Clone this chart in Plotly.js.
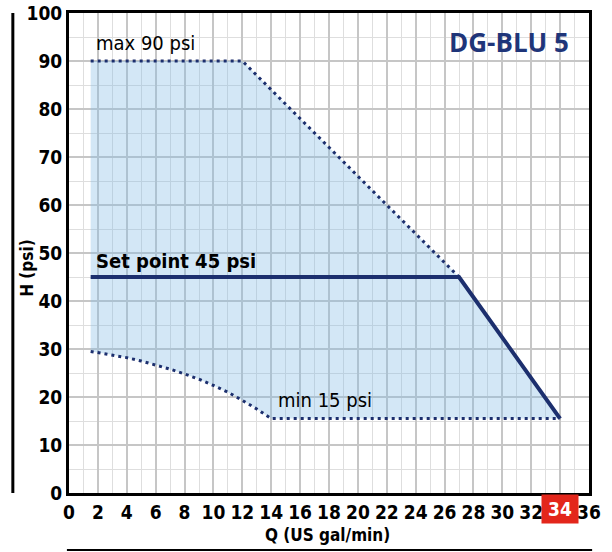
<!DOCTYPE html>
<html>
<head>
<meta charset="utf-8">
<script src="https://cdn.plot.ly/plotly-3.0.1.min.js"></script>
<style>html,body{margin:0;padding:0;background:#fff;}#chart{width:612px;height:552px;}</style>
</head>
<body>
<div id="chart"></div>
<script>
// Data
const maxQ = [1.5, 12, 27];
const maxH = [90, 90, 45];
const setQ = [1.5, 27, 34];
const setH = [45, 45, 15.5];
const minQ = [1.5, 3, 4, 5, 6, 7, 8, 9, 10, 11, 12, 13, 14, 34];
const minH = [29.5, 28.8, 28.2, 27.5, 26.7, 25.8, 24.8, 23.7, 22.4, 21.0, 19.3, 17.5, 15.5, 15.5];
const xTicks = [0, 2, 4, 6, 8, 10, 12, 14, 16, 18, 20, 22, 24, 26, 28, 30, 32, 34, 36];
const yTicks = [0, 10, 20, 30, 40, 50, 60, 70, 80, 90, 100];
const highlightQ = 34;

const NAVY = '#1c2f6e';
const COND = '"Liberation Sans Narrow", "DejaVu Sans Condensed", "Arial Narrow", sans-serif';

// Fill polygon: max curve -> set point descending line -> min curve reversed
const fillX = maxQ.concat([setQ[setQ.length - 1]]).concat(minQ.slice().reverse());
const fillY = maxH.concat([setH[setH.length - 1]]).concat(minH.slice().reverse());

const traces = [
  {x: fillX, y: fillY, mode: 'lines', fill: 'toself', fillcolor: 'rgba(130,185,230,0.35)',
   line: {width: 0}, hoverinfo: 'skip', showlegend: false},
  {x: maxQ, y: maxH, mode: 'lines', line: {color: NAVY, width: 3, dash: '3px,4px'}, showlegend: false},
  {x: minQ, y: minH, mode: 'lines', line: {color: NAVY, width: 3, dash: '3px,4px'}, showlegend: false},
  {x: setQ, y: setH, mode: 'lines', line: {color: NAVY, width: 4}, showlegend: false}
];

const xTickText = xTicks.map(v => v === highlightQ ? '' : String(v));

const layout = {
  width: 612, height: 552,
  margin: {l: 69, r: 23, t: 13, b: 59},
  paper_bgcolor: '#ffffff', plot_bgcolor: '#ffffff',
  showlegend: false,
  xaxis: {
    range: [0, 36], tickvals: xTicks, ticktext: xTickText,
    tickfont: {family: COND, size: 19, color: '#000', weight: 'bold'},
    showgrid: true, gridcolor: '#c6c6c6', gridwidth: 2,
    minor: {dtick: 1, showgrid: true, gridcolor: '#dedede', gridwidth: 1, tick0: 0},
    showline: true, linecolor: '#000', linewidth: 3, mirror: true,
    ticks: '', zeroline: false, fixedrange: true
  },
  yaxis: {
    range: [0, 100], tickvals: yTicks,
    tickfont: {family: COND, size: 19, color: '#000', weight: 'bold'},
    showgrid: true, gridcolor: '#c6c6c6', gridwidth: 2,
    minor: {dtick: 5, showgrid: true, gridcolor: '#dedede', gridwidth: 1, tick0: 0},
    showline: true, linecolor: '#000', linewidth: 3, mirror: true,
    ticks: '', zeroline: false, fixedrange: true
  },
  shapes: [
    {type: 'line', xref: 'paper', yref: 'paper', x0: -0.108, x1: -0.108, y0: 0, y1: 1,
     line: {color: '#000', width: 3}},
    {type: 'line', xref: 'paper', yref: 'paper', x0: -0.004, x1: 1.006, y0: -0.119, y1: -0.119,
     line: {color: '#000', width: 2}}
  ],
  annotations: [
    {x: 34.75, y: 94, xref: 'x', yref: 'y', xanchor: 'right', yanchor: 'middle', showarrow: false,
     text: 'DG-BLU 5', font: {family: '"Open Sans", "Noto Sans", sans-serif', size: 26, color: '#1f3579', weight: 'bold'}},
    {x: 1.7, y: 93.8, xref: 'x', yref: 'y', xanchor: 'left', yanchor: 'middle', showarrow: false,
     text: 'max 90 psi', font: {family: COND, size: 20, color: '#000'}},
    {x: 1.75, y: 48.4, xref: 'x', yref: 'y', xanchor: 'left', yanchor: 'middle', showarrow: false,
     text: 'Set point 45 psi', font: {family: COND, size: 20, color: '#000', weight: 'bold'}},
    {x: 14.3, y: 19.4, xref: 'x', yref: 'y', xanchor: 'left', yanchor: 'middle', showarrow: false,
     text: 'min 15 psi', font: {family: COND, size: 20, color: '#000'}},
    {x: 0.498, y: -0.064, xref: 'paper', yref: 'paper', xanchor: 'center', yanchor: 'top', showarrow: false,
     borderpad: 0, text: 'Q (US gal/min)', font: {family: COND, size: 17, color: '#000', weight: 'bold'}},
    {x: -0.081, y: 0.469, xref: 'paper', yref: 'paper', xanchor: 'center', yanchor: 'middle', showarrow: false,
     textangle: -90, text: 'H (psi)', font: {family: COND, size: 17, color: '#000', weight: 'bold'}},
    {x: highlightQ, y: 0, xref: 'x', yref: 'paper', xanchor: 'center', yanchor: 'top', yshift: -1, showarrow: false,
     text: String(highlightQ), bgcolor: '#e3261b', borderpad: 3, width: 30,
     font: {family: COND, size: 19, color: '#ffffff', weight: 'bold'}}
  ]
};

Plotly.newPlot('chart', traces, layout, {staticPlot: true, displayModeBar: false});
</script>
</body>
</html>
